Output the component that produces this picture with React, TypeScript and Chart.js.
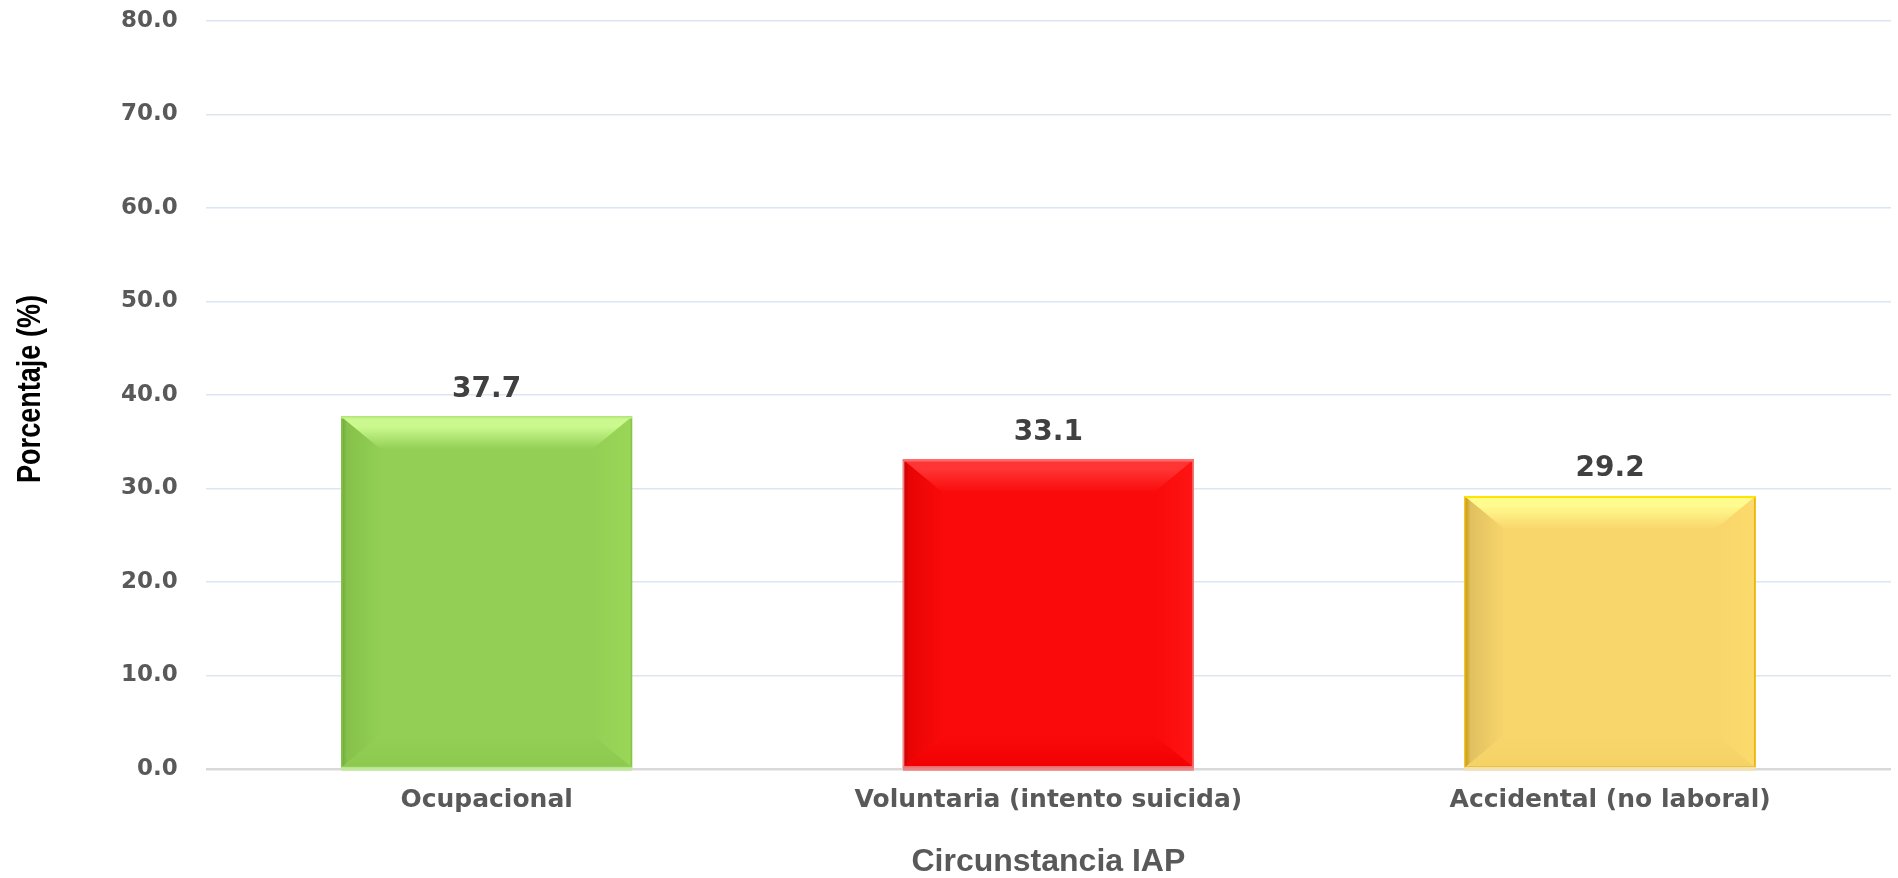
import React, { useEffect, useRef } from 'react';
import { Chart, registerables } from 'chart.js';

Chart.register(...registerables);

// ---- data ----
const categories = ['Ocupacional', 'Voluntaria (intento suicida)', 'Accidental (no laboral)'];
const percentages = [37.7, 33.1, 29.2];
const yMin = 0;
const yMax = 80;
const yStep = 10;
const yTitle = 'Porcentaje (%)';
const xTitle = 'Circunstancia IAP';

// ---- styles ----
const SANS = '"Liberation Sans", Arial, Helvetica, sans-serif';
const WIDE = '"DejaVu Sans", Verdana, sans-serif';
const barMain = ['#92CF54', '#FA0A0A', '#F9D66C'];
const barBevel = [
  { top: '#CBF98F', left: '#6DA63A', leftMid: '#86C24B', right: '#9AD758', bottom: '#8CC94E', border: '#86C44A', topBorder: '#BDF084', reflect: 'rgba(190,232,150,0.9)' },
  { top: '#FF3434', left: '#C80000', leftMid: '#E80404', right: '#FF1414', bottom: '#F00000', border: '#E88A8A', topBorder: '#FF6A6A', reflect: 'rgba(240,120,120,0.9)' },
  { top: '#FFFB8E', left: '#C49500', leftMid: '#E0C060', right: '#FCDA6A', bottom: '#F5D266', border: '#E8B000', topBorder: '#FFE400', reflect: 'rgba(242,226,178,0.95)' },
];

function fillPoly(ctx: CanvasRenderingContext2D, pts: number[][], style: any) {
  ctx.beginPath();
  ctx.moveTo(pts[0][0], pts[0][1]);
  for (let i = 1; i < pts.length; i++) ctx.lineTo(pts[i][0], pts[i][1]);
  ctx.closePath();
  ctx.fillStyle = style;
  ctx.fill();
}

const bevelPlugin = {
  id: 'bevel',
  afterDatasetsDraw(chart: any) {
    const ctx: CanvasRenderingContext2D = chart.ctx;
    const meta = chart.getDatasetMeta(0);
    meta.data.forEach((el: any, i: number) => {
      const { x, y, base, width } = el.getProps(['x', 'y', 'base', 'width'], true);
      const x0 = x - width / 2;
      const x1 = x + width / 2;
      const y0 = Math.min(y, base);
      const y1 = Math.max(y, base);
      const s = barBevel[i % barBevel.length];
      const main = barMain[i % barMain.length];
      const bx = Math.min(40, width / 2);
      const by = Math.min(33, (y1 - y0) / 2);
      ctx.save();
      let g = ctx.createLinearGradient(x0, 0, x0 + bx, 0);
      g.addColorStop(0, s.left);
      g.addColorStop(0.15, s.leftMid);
      g.addColorStop(1, main);
      fillPoly(ctx, [[x0, y0], [x0 + bx, y0 + by], [x0 + bx, y1 - by], [x0, y1]], g);
      g = ctx.createLinearGradient(x1 - bx, 0, x1, 0);
      g.addColorStop(0, main);
      g.addColorStop(1, s.right);
      fillPoly(ctx, [[x1, y0], [x1 - bx, y0 + by], [x1 - bx, y1 - by], [x1, y1]], g);
      g = ctx.createLinearGradient(0, y0, 0, y0 + by);
      g.addColorStop(0, s.top);
      g.addColorStop(0.3, s.top);
      g.addColorStop(1, main);
      fillPoly(ctx, [[x0, y0], [x1, y0], [x1 - bx, y0 + by], [x0 + bx, y0 + by]], g);
      g = ctx.createLinearGradient(0, y1 - by, 0, y1);
      g.addColorStop(0, main);
      g.addColorStop(1, s.bottom);
      fillPoly(ctx, [[x0, y1], [x1, y1], [x1 - bx, y1 - by], [x0 + bx, y1 - by]], g);
      ctx.lineWidth = 1.5;
      ctx.strokeStyle = s.border;
      ctx.strokeRect(x0 + 0.75, y0 + 0.75, width - 1.5, y1 - y0 - 1.5);
      ctx.beginPath();
      ctx.moveTo(x0, y0 + 1);
      ctx.lineTo(x1, y0 + 1);
      ctx.lineWidth = 2;
      ctx.strokeStyle = s.topBorder;
      ctx.stroke();
      ctx.fillStyle = s.reflect;
      ctx.fillRect(x0, y1 - 1, width, 4);
      ctx.restore();
    });
  },
};

const valueLabelPlugin = {
  id: 'valueLabels',
  afterDatasetsDraw(chart: any) {
    const ctx: CanvasRenderingContext2D = chart.ctx;
    const meta = chart.getDatasetMeta(0);
    const data = chart.data.datasets[0].data as number[];
    ctx.save();
    ctx.font = `bold 28px ${WIDE}`;
    ctx.fillStyle = '#404040';
    ctx.textAlign = 'center';
    ctx.textBaseline = 'middle';
    meta.data.forEach((el: any, i: number) => {
      const { x, y } = el.getProps(['x', 'y'], true);
      ctx.fillText(Number(data[i]).toFixed(1), x, y - 27);
    });
    ctx.restore();
  },
};

// condensed (narrow) rotated y-axis title
const yTitlePlugin = {
  id: 'yTitleNarrow',
  afterDraw(chart: any) {
    const ctx: CanvasRenderingContext2D = chart.ctx;
    const area = chart.chartArea;
    ctx.save();
    ctx.translate(31, (area.top + area.bottom) / 2 - 6);
    ctx.rotate(-Math.PI / 2);
    ctx.scale(0.82, 1);
    ctx.font = `bold 33px ${SANS}`;
    ctx.fillStyle = '#000000';
    ctx.textAlign = 'center';
    ctx.textBaseline = 'middle';
    ctx.fillText(yTitle, 0, 0);
    ctx.restore();
  },
};

export default function App() {
  const canvasRef = useRef<HTMLCanvasElement | null>(null);

  useEffect(() => {
    if (!canvasRef.current) return;
    const chart = new Chart(canvasRef.current, {
      type: 'bar',
      data: {
        labels: categories,
        datasets: [
          {
            data: percentages,
            backgroundColor: barMain,
            borderWidth: 0,
            barPercentage: 0.518,
            categoryPercentage: 1,
          },
        ],
      },
      options: {
        animation: false,
        responsive: false,
        devicePixelRatio: 1,
        layout: { padding: { left: 121, right: 7, top: 21, bottom: 0 } },
        plugins: {
          legend: { display: false },
          tooltip: { enabled: false },
        },
        scales: {
          x: {
            grid: { display: false, drawTicks: false },
            border: { display: false },
            ticks: {
              padding: 16,
              color: '#595959',
              font: { family: WIDE, size: 25, weight: 'bold' },
              maxRotation: 0,
              autoSkip: false,
            },
            title: {
              display: true,
              text: xTitle,
              color: '#595959',
              font: { family: SANS, size: 32, weight: 'bold', lineHeight: 1 },
              padding: { top: 15, bottom: 0 },
            },
          },
          y: {
            min: yMin,
            max: yMax,
            grid: {
              drawTicks: true,
              tickLength: 28,
              tickColor: 'rgba(0,0,0,0)',
              color: (c: any) => (c.tick && c.tick.value === 0 ? '#D9D9D9' : '#DCE6F2'),
              lineWidth: (c: any) => (c.tick && c.tick.value === 0 ? 2.5 : 1.5),
            },
            border: { display: false },
            ticks: {
              stepSize: yStep,
              padding: 0,
              color: '#595959',
              font: { family: WIDE, size: 23, weight: 'bold' },
              callback: (v: any) => Number(v).toFixed(1),
            },
            title: { display: false },
          },
        },
      },
      plugins: [bevelPlugin, valueLabelPlugin, yTitlePlugin],
    } as any);
    return () => chart.destroy();
  }, []);

  return (
    <div style={{ position: 'fixed', left: 0, top: 0, width: 1898, height: 878, background: '#ffffff' }}>
      <canvas ref={canvasRef} width={1898} height={878} style={{ width: 1898, height: 878, display: 'block' }} />
    </div>
  );
}
